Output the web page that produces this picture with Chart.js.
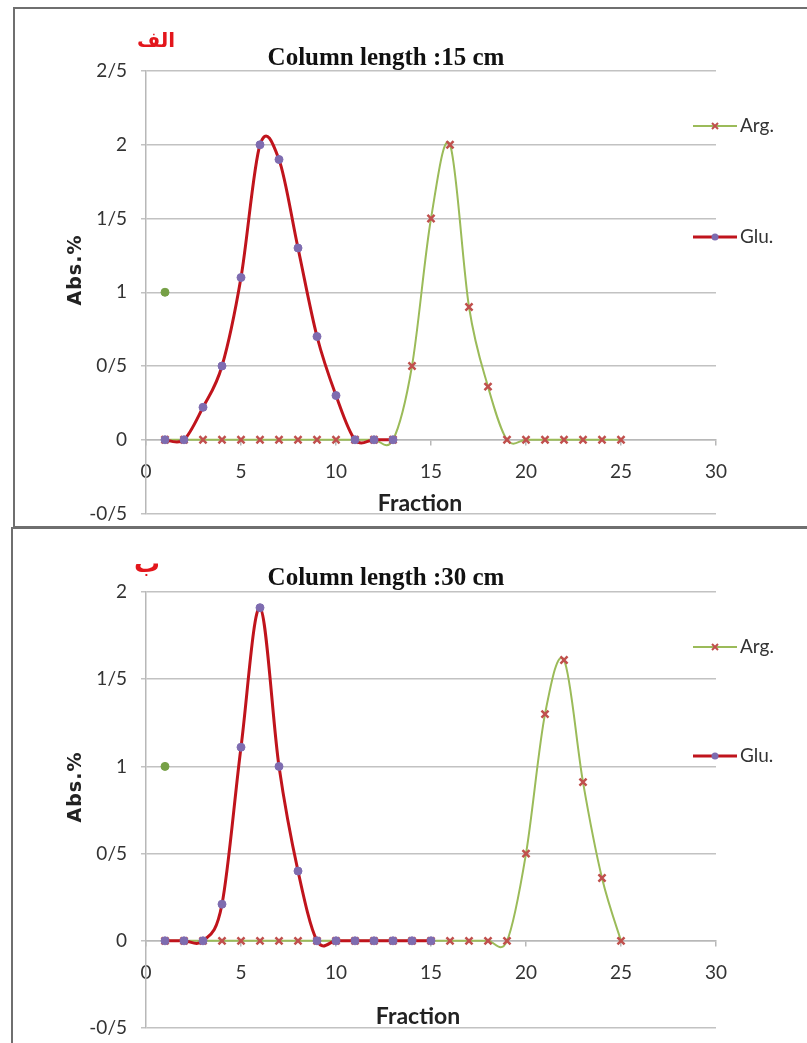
<!DOCTYPE html>
<html>
<head>
<meta charset="utf-8">
<script src="https://cdn.jsdelivr.net/npm/chart.js@4.4.1/dist/chart.umd.min.js"></script>
<style>
  body { margin: 0; width: 807px; height: 1043px; overflow: hidden; background: #fff; position: relative; }
  .panel { position: absolute; border: 2px solid #6f6f6f; background: #fff; }
  #panel1 { left: 13px; top: 7px; width: 900px; height: 517px; }
  #panel2 { left: 11px; top: 527px; width: 900px; height: 600px; }
  canvas { position: absolute; left: 0; }
  #c1 { top: 0; }
  #c2 { top: 521px; }
  .txt { position: absolute; white-space: nowrap; transform: translate(-50%, -50%); }
  .title { font-family: 'Liberation Serif', serif; font-weight: bold; font-size: 25px; color: #111; }
  .letter { font-family: 'DejaVu Sans', sans-serif; font-weight: bold; font-size: 20px; color: #e3161c; }
  .big { font-size: 26px; }
  .ytitle { font-family: 'DejaVu Sans', sans-serif; font-weight: bold; font-size: 19px; color: #222; letter-spacing: 1px; transform: translate(-50%, -50%) rotate(-90deg); }
  .xtitle { font-family: Lato, 'Open Sans', sans-serif; font-weight: bold; font-size: 23px; color: #222; }
</style>
</head>
<body>
<div class="panel" id="panel1"></div>
<div class="panel" id="panel2"></div>
<canvas id="c1" width="807" height="521"></canvas>
<canvas id="c2" width="807" height="522"></canvas>

<div class="txt letter" style="left:156px; top:40px;">الف</div>
<div class="txt title" style="left:386px; top:57px;">Column length :15 cm</div>
<div class="txt ytitle" style="left:74px; top:270px;">Abs.%</div>
<div class="txt xtitle" style="left:420px; top:502px;">Fraction</div>

<div class="txt letter big" style="left:147px; top:563px;">ب</div>
<div class="txt title" style="left:386px; top:577px;">Column length :30 cm</div>
<div class="txt ytitle" style="left:74px; top:787px;">Abs.%</div>
<div class="txt xtitle" style="left:418px; top:1015px;">Fraction</div>

<script>
// fractions (x values)
const gluFractions15 = [1, 2, 3, 4, 5, 6, 7, 8, 9, 10, 11, 12, 13];
const gluFractions30 = [1, 2, 3, 4, 5, 6, 7, 8, 9, 10, 11, 12, 13, 14, 15];
const argFractions = [1, 2, 3, 4, 5, 6, 7, 8, 9, 10, 11, 12, 13, 14, 15, 16, 17, 18, 19, 20, 21, 22, 23, 24, 25];

// column length 15 cm
const glu15 = [0, 0, 0.22, 0.5, 1.1, 2.0, 1.9, 1.3, 0.7, 0.3, 0, 0, 0];
const arg15 = [0, 0, 0, 0, 0, 0, 0, 0, 0, 0, 0, 0, 0, 0.5, 1.5, 2.0, 0.9, 0.36, 0, 0, 0, 0, 0, 0, 0];

// column length 30 cm
const glu30 = [0, 0, 0, 0.21, 1.11, 1.91, 1.0, 0.4, 0, 0, 0, 0, 0, 0, 0];
const arg30 = [0, 0, 0, 0, 0, 0, 0, 0, 0, 0, 0, 0, 0, 0, 0, 0, 0, 0, 0, 0.5, 1.3, 1.61, 0.91, 0.36, 0];

// stray green point seen in both plots
const strayX = [1];
const strayY = [1];

const yLabels15 = ['-0/5', '0', '0/5', '1', '1/5', '2', '2/5'];
const yLabels30 = ['-0/5', '0', '0/5', '1', '1/5', '2'];

const GLU_LINE = '#c0141c';
const GLU_MARK = '#7e6cb0';
const ARG_LINE = '#9bbb59';
const ARG_MARK = '#c0504d';
const STRAY = '#76a046';
const TICK_FONT = "Lato, 'Open Sans', sans-serif";
const TICK_COLOR = '#333333';

function pairs(xs, ys) {
  return xs.map((x, i) => ({ x: x, y: ys[i] }));
}

// Excel style smoothing: uniform Catmull-Rom control points on the library's own pixel positions
const excelSmooth = {
  id: 'excelSmooth',
  beforeDatasetDraw(chart, args) {
    const meta = args.meta;
    const line = meta.dataset;
    if (!line || !meta.data || meta.data.length < 2) return;
    const pts = meta.data;
    const k = 1 / 6;
    for (let i = 0; i < pts.length; i++) {
      const prev = pts[i - 1] || pts[i];
      const next = pts[i + 1] || pts[i];
      const dx = (next.x - prev.x) * k;
      const dy = (next.y - prev.y) * k;
      pts[i].cp1x = pts[i].x - dx;
      pts[i].cp1y = pts[i].y - dy;
      pts[i].cp2x = pts[i].x + dx;
      pts[i].cp2y = pts[i].y + dy;
    }
    line._pointsUpdated = true;
  }
};

const sideLegend = {
  id: 'sideLegend',
  afterDraw(chart, args, opts) {
    const ctx = chart.ctx;
    const top = chart.chartArea.top;
    opts.entries.forEach(entry => {
      const ds = chart.data.datasets[entry.index];
      const y = top + entry.dy;
      const mx = opts.x + opts.len / 2;
      ctx.save();
      ctx.strokeStyle = ds.borderColor;
      ctx.lineWidth = ds.borderWidth;
      ctx.beginPath();
      ctx.moveTo(opts.x, y);
      ctx.lineTo(opts.x + opts.len, y);
      ctx.stroke();
      if (ds.pointStyle === 'crossRot') {
        ctx.strokeStyle = ds.pointBorderColor;
        ctx.lineWidth = 2;
        ctx.beginPath();
        ctx.moveTo(mx - 3, y - 3); ctx.lineTo(mx + 3, y + 3);
        ctx.moveTo(mx - 3, y + 3); ctx.lineTo(mx + 3, y - 3);
        ctx.stroke();
      } else {
        ctx.fillStyle = ds.pointBackgroundColor;
        ctx.beginPath();
        ctx.arc(mx, y, 3.5, 0, Math.PI * 2);
        ctx.fill();
      }
      ctx.fillStyle = TICK_COLOR;
      ctx.font = '19px ' + TICK_FONT;
      ctx.textBaseline = 'middle';
      ctx.fillText(ds.label, opts.x + opts.len + 3, y);
      ctx.restore();
    });
  }
};

function makeChart(id, cfg) {
  return new Chart(document.getElementById(id), {
    type: 'line',
    data: {
      datasets: [
        {
          label: 'Glu.',
          data: pairs(cfg.gluX, cfg.glu),
          borderColor: GLU_LINE,
          borderWidth: 3,
          pointStyle: 'circle',
          pointRadius: 4,
          pointBackgroundColor: GLU_MARK,
          pointBorderColor: GLU_MARK,
          pointBorderWidth: 1,
          tension: 0.4,
          order: 0
        },
        {
          label: 'Arg.',
          data: pairs(argFractions, cfg.arg),
          borderColor: ARG_LINE,
          borderWidth: 2,
          pointStyle: 'crossRot',
          pointRadius: 5,
          pointBorderColor: ARG_MARK,
          pointBackgroundColor: ARG_MARK,
          pointBorderWidth: 2.5,
          tension: 0.4,
          order: 1
        },
        {
          label: '',
          data: pairs(strayX, strayY),
          showLine: false,
          pointRadius: 4,
          pointBackgroundColor: STRAY,
          pointBorderColor: STRAY,
          order: 2
        }
      ]
    },
    options: {
      responsive: false,
      animation: false,
      layout: { padding: { left: 0, top: 71, right: 91, bottom: cfg.padBottom } },
      plugins: {
        legend: { display: false },
        tooltip: { enabled: false },
        sideLegend: {
          x: 693,
          len: 44,
          entries: [
            { index: 1, dy: cfg.legendDy[0] },
            { index: 0, dy: cfg.legendDy[1] }
          ]
        }
      },
      scales: {
        x: {
          type: 'linear',
          min: 0,
          max: 30,
          position: { y: 0 },
          ticks: { stepSize: 5, padding: 16, color: TICK_COLOR, font: { family: TICK_FONT, size: 19 } },
          grid: { drawOnChartArea: false, drawTicks: true, tickLength: 5, color: '#b8b8b8', lineWidth: 1.5 },
          border: { color: '#b8b8b8', width: 1.5 },
          afterFit(scale) { scale.height = 0; scale.paddingLeft = 0; scale.paddingRight = 0; }
        },
        y: {
          min: -0.5,
          max: cfg.yMax,
          ticks: {
            stepSize: 0.5,
            padding: 14,
            color: TICK_COLOR,
            font: { family: TICK_FONT, size: 19 },
            callback: (value, index) => cfg.yLabels[index]
          },
          grid: { color: '#c2c2c2', lineWidth: 1.5, tickLength: 5 },
          border: { color: '#b8b8b8', width: 1.5 },
          afterFit(scale) { scale.width = 146; scale.paddingTop = 0; scale.paddingBottom = 0; }
        }
      }
    },
    plugins: [excelSmooth, sideLegend]
  });
}

makeChart('c1', {
  gluX: gluFractions15, glu: glu15, arg: arg15,
  yMax: 2.5, yLabels: yLabels15, padBottom: 7, legendDy: [55, 166]
});

makeChart('c2', {
  gluX: gluFractions30, glu: glu30, arg: arg30,
  yMax: 2, yLabels: yLabels30, padBottom: 15, legendDy: [55, 164]
});
</script>
</body>
</html>
